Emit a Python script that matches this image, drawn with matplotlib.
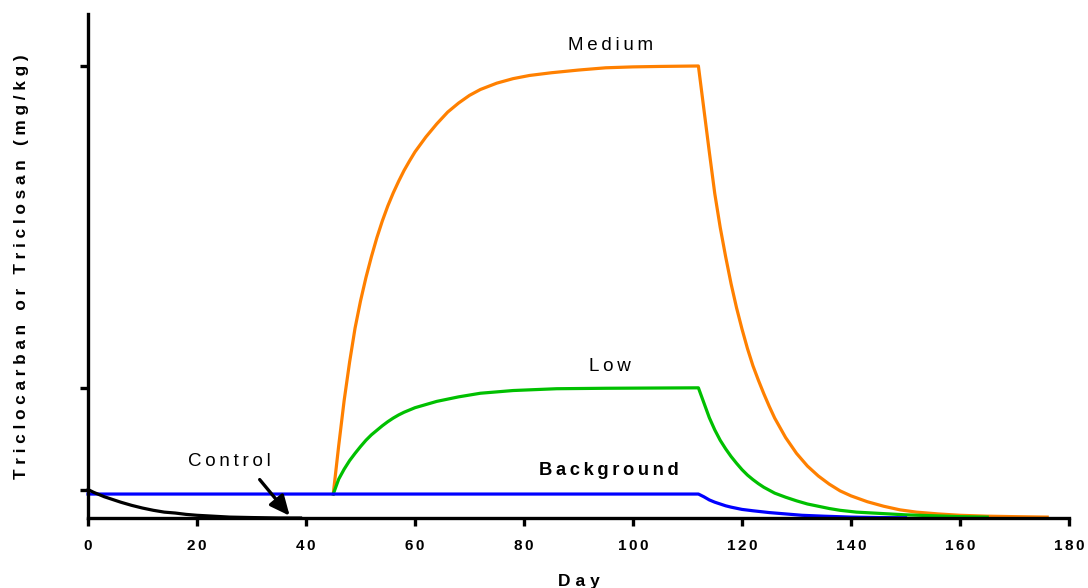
import matplotlib
matplotlib.use("Agg")
import matplotlib.pyplot as plt

# ---------------- data ----------------
medium_days = [45, 46, 47, 48, 49, 50, 51, 52, 53, 54, 55, 56, 57, 58, 59, 60, 62, 64, 66, 68, 70, 72, 75, 78,
               81, 85, 90, 95, 100, 105, 112,
               113, 114, 115, 116, 117, 118, 119, 120, 121, 122, 123, 124, 125, 126, 128, 130, 132, 134, 136,
               138, 140, 143, 146, 149, 152, 156, 160, 165, 170, 176]
medium_vals = [0.053, 0.16, 0.26, 0.345, 0.42, 0.48, 0.532, 0.578, 0.62, 0.657, 0.69, 0.719, 0.745, 0.769, 0.79,
               0.81, 0.843, 0.872, 0.898, 0.918, 0.935, 0.948, 0.962, 0.972,
               0.979, 0.985, 0.991, 0.996, 0.998, 0.999, 1.0,
               0.905, 0.81, 0.718, 0.643, 0.578, 0.518, 0.465, 0.418, 0.375, 0.337, 0.305, 0.275, 0.247, 0.221,
               0.178, 0.143, 0.115, 0.093, 0.075,
               0.06, 0.049, 0.036, 0.026, 0.018, 0.013, 0.009, 0.006, 0.004, 0.003, 0.002]

low_days = [45, 46, 47, 48, 49, 50, 51, 52, 53, 54, 55, 56, 57, 58, 60, 62, 64, 66, 68, 70, 72, 75, 78, 82,
            86, 95, 112,
            113, 114, 115, 116, 117, 118, 119, 120, 121, 122, 123, 124, 126, 128, 130, 132, 134, 136, 138,
            141, 144, 147, 150, 155, 160, 165]
low_vals = [0.053, 0.086, 0.108, 0.127, 0.143, 0.158, 0.172, 0.184, 0.194, 0.204, 0.213, 0.221, 0.228, 0.234,
            0.244, 0.251, 0.258, 0.263, 0.268, 0.272, 0.276, 0.279, 0.282, 0.284,
            0.286, 0.287, 0.288,
            0.255, 0.222, 0.195, 0.172, 0.153, 0.136, 0.121, 0.107, 0.095, 0.085, 0.076, 0.068, 0.055, 0.046,
            0.038, 0.031, 0.026, 0.021, 0.017,
            0.013, 0.011, 0.009, 0.007, 0.005, 0.003, 0.002]

background_days = [0, 112, 113, 114, 115, 116, 117, 118, 120, 122, 125, 128, 131, 135, 140, 145, 150]
background_vals = [0.053, 0.053, 0.047, 0.040, 0.035, 0.031, 0.027, 0.024, 0.019, 0.016, 0.012, 0.009,
                   0.006, 0.004, 0.002, 0.001, 0.0005]

control_days = [0, 1, 2, 3, 4, 5, 6, 8, 10, 12, 14, 16, 18, 20, 23, 26, 30, 35, 39]
control_vals = [0.063, 0.057, 0.052, 0.047, 0.043, 0.039, 0.035, 0.028, 0.022, 0.017, 0.013, 0.011, 0.008,
                0.006, 0.004, 0.002, 0.001, 0.0, 0.0]

x_ticks = [0, 20, 40, 60, 80, 100, 120, 140, 160, 180]
y_ticks = [0.062, 0.288, 1.0]

x_label = "Day"
y_label = "Triclocarban or Triclosan (mg/kg)"
series_labels = ["Medium", "Low", "Background", "Control"]

# ---------------- drawing ----------------
HAIR = "\u200a"
THIN = "\u2009"
def spaced(s, sep=THIN):
    return sep.join(list(s))

FAM = ["Liberation Sans", "DejaVu Sans"]
plt.rcParams["font.family"] = FAM

fig = plt.figure(figsize=(10.88, 5.88), dpi=100)
ax = fig.add_axes([88 / 1088, 1 - 518 / 588, (1069 - 88) / 1088, (518 - 14) / 588])

lw = 2.3
ax.plot(medium_days, medium_vals, color="#FF8000", lw=lw, zorder=3, clip_on=False)
ax.plot(low_days, low_vals, color="#00C000", lw=lw, zorder=4, clip_on=False)
ax.plot(background_days, background_vals, color="#0000FF", lw=lw, zorder=5, clip_on=False)
ax.plot(control_days, control_vals, color="black", lw=lw, zorder=6, clip_on=False)

ax.set_xlim(0, 180)
ax.set_ylim(0, 1.115)
ax.set_xticks(x_ticks)
ax.set_xticklabels([spaced(str(t), HAIR + HAIR) for t in x_ticks], fontsize=11, fontweight="bold", family=FAM)
ax.set_yticks(y_ticks)
ax.set_yticklabels([])

for s in ["top", "right"]:
    ax.spines[s].set_visible(False)
for s in ["left", "bottom"]:
    ax.spines[s].set_linewidth(2.4)
    ax.spines[s].set_zorder(7)
ax.tick_params(axis="both", direction="out", length=6, width=2.4, pad=9)

ax.set_xlabel(spaced(x_label, THIN + HAIR), fontsize=12.5, fontweight="bold", labelpad=15, family=FAM)
fig.text(22 / 1088, 1 - 267 / 588, spaced(y_label, THIN + HAIR), rotation=90, fontsize=12.3,
         fontweight="bold", ha="center", va="center", family=FAM)

tkw = dict(fontsize=13.5, ha="center", va="center", family=FAM)
ax.text(95.8, 1.045, spaced(series_labels[0]), **tkw)
ax.text(95.8, 0.335, spaced(series_labels[1]), **tkw)
ax.text(95.6, 0.106, spaced(series_labels[2]), fontweight="bold", fontsize=13.2, ha="center", va="center",
        family=FAM)
ax.text(26, 0.125, spaced(series_labels[3]), **tkw)

ax.annotate("", xy=(37.0, 0.005), xytext=(31.5, 0.085),
            arrowprops=dict(arrowstyle="-|>,head_length=1.2,head_width=0.55", color="black", lw=2.4,
                            shrinkA=0, shrinkB=0), annotation_clip=False, zorder=8)

fig.savefig("out.png", dpi=100)
